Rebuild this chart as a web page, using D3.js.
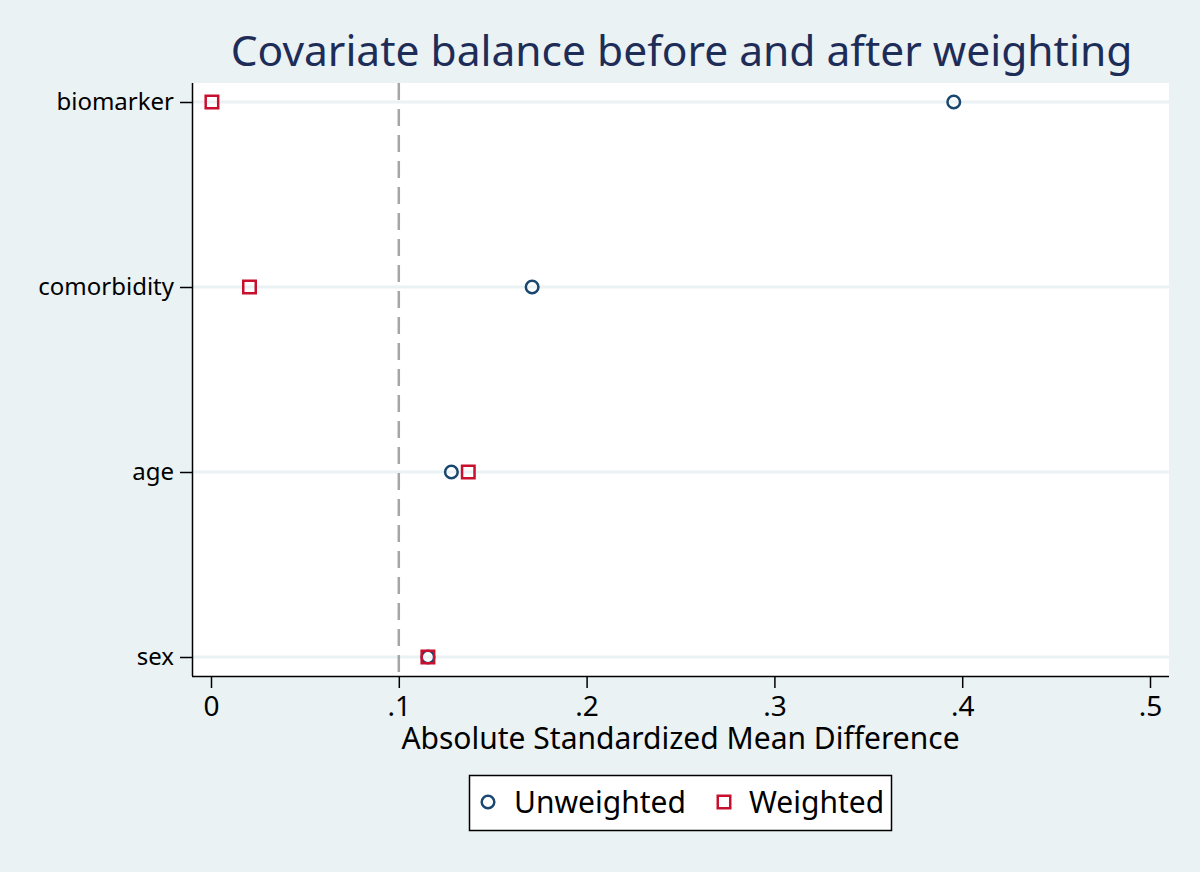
<!DOCTYPE html>
<html><head><meta charset="utf-8">
<script src="https://cdn.jsdelivr.net/npm/d3@7"></script>
<style>html,body{margin:0;padding:0;background:#eaf2f3;}svg{display:block;}</style>
</head><body>
<script>
const categories = ["biomarker", "comorbidity", "age", "sex"];
const unweighted = [0.3955, 0.171, 0.128, 0.1155];
const weighted = [0.0005, 0.0205, 0.137, 0.1155];
const xTicks = [0, 0.1, 0.2, 0.3, 0.4, 0.5];
const xTickLabels = ["0", ".1", ".2", ".3", ".4", ".5"];
const seriesNames = ["Unweighted", "Weighted"];
const threshold = 0.1;

const W = 1200, H = 872;
const plot = {left: 192, right: 1169, top: 83, bottom: 676};
const font = "'Noto Sans', 'Open Sans', sans-serif";
const navy = "#1a476f", red = "#c8102e";

const svg = d3.select("body").append("svg").attr("width", W).attr("height", H);
svg.append("rect").attr("width", W).attr("height", H).attr("fill", "#eaf2f3");
svg.append("rect").attr("x", plot.left).attr("y", plot.top)
  .attr("width", plot.right - plot.left).attr("height", plot.bottom - plot.top).attr("fill", "#ffffff");

const x = d3.scaleLinear().domain([0, 0.5]).range([211, 1150]);
const y = d3.scalePoint().domain(categories).range([102, 657]);

// gridlines
svg.append("g").selectAll("line").data(categories).join("line")
  .attr("x1", plot.left).attr("x2", plot.right)
  .attr("y1", d => y(d)).attr("y2", d => y(d))
  .attr("stroke", "#eaf2f3").attr("stroke-width", 3);

// threshold line
svg.append("line").attr("x1", x(threshold)).attr("x2", x(threshold))
  .attr("y1", plot.top).attr("y2", plot.bottom)
  .attr("stroke", "#a6a6a6").attr("stroke-width", 2.5).attr("stroke-dasharray", "17,9");

// axes
const xAxis = d3.axisBottom(x).tickValues(xTicks).tickFormat((d, i) => xTickLabels[i]).tickSize(12).tickPadding(0);
const gx = svg.append("g").attr("transform", `translate(0,${plot.bottom})`).call(xAxis);
gx.select(".domain").attr("d", `M${plot.left},0.5H${plot.right}`).attr("stroke", "#000").attr("stroke-width", 1.5);
gx.selectAll(".tick line").attr("stroke", "#000").attr("stroke-width", 1.5);
gx.selectAll(".tick text").attr("font-family", font).attr("font-size", 28).attr("fill", "#000")
  .attr("y", 40).attr("dy", null);

const yAxis = d3.axisLeft(y).tickSize(12).tickPadding(6);
const gy = svg.append("g").attr("transform", `translate(${plot.left},0)`).call(yAxis);
gy.select(".domain").attr("d", `M0.5,${plot.top}V${plot.bottom}`).attr("stroke", "#000").attr("stroke-width", 1.5);
gy.selectAll(".tick line").attr("stroke", "#000").attr("stroke-width", 1.5);
gy.selectAll(".tick text").attr("font-family", font).attr("font-size", 24).attr("fill", "#000");

// markers
const g = svg.append("g");
g.selectAll("circle").data(categories).join("circle")
  .attr("cx", (d, i) => x(unweighted[i])).attr("cy", d => y(d)).attr("r", 6.3)
  .attr("fill", "none").attr("stroke", navy).attr("stroke-width", 2.5);
const s = 12.5;
g.selectAll("rect").data(categories).join("rect")
  .attr("x", (d, i) => x(weighted[i]) - s / 2).attr("y", d => y(d) - s / 2)
  .attr("width", s).attr("height", s)
  .attr("fill", "none").attr("stroke", red).attr("stroke-width", 2.5);

// title
svg.append("text").attr("x", 681.5).attr("y", 66).attr("text-anchor", "middle")
  .attr("font-family", font).attr("font-size", 42.5).attr("fill", "#1e2d58")
  .text("Covariate balance before and after weighting");

// x title
svg.append("text").attr("x", 680.5).attr("y", 749).attr("text-anchor", "middle")
  .attr("font-family", font).attr("font-size", 30).attr("fill", "#000")
  .text("Absolute Standardized Mean Difference");

// legend
const lg = svg.append("g");
lg.append("rect").attr("x", 469.5).attr("y", 775.5).attr("width", 422).attr("height", 55)
  .attr("fill", "#fff").attr("stroke", "#000").attr("stroke-width", 1.5);
lg.append("circle").attr("cx", 488).attr("cy", 802).attr("r", 6.3)
  .attr("fill", "none").attr("stroke", navy).attr("stroke-width", 2.5);
lg.append("text").attr("x", 514).attr("y", 813).attr("font-family", font).attr("font-size", 30).text(seriesNames[0]);
lg.append("rect").attr("x", 724 - s / 2).attr("y", 802 - s / 2).attr("width", s).attr("height", s)
  .attr("fill", "none").attr("stroke", red).attr("stroke-width", 2.5);
lg.append("text").attr("x", 749).attr("y", 813).attr("font-family", font).attr("font-size", 30).text(seriesNames[1]);
</script>
</body></html>
